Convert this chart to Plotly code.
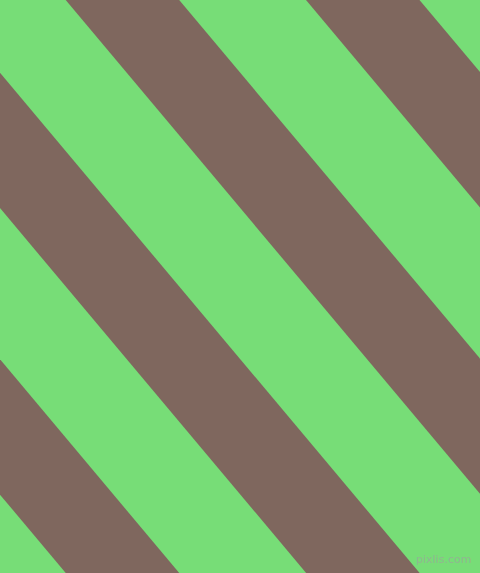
import plotly.graph_objects as go

# canvas size in px
W, H = 480, 573

# stripe geometry (x where each brown stripe's left edge meets the top)
stripe_starts = [-415.0, -174.6, 65.7, 306.0]
stripe_width = 113.5        # horizontal width of a brown stripe
slope = 0.839               # x shift per pixel going down

green = "#77DD77"
brown = "#7F675E"

fig = go.Figure()

for c in stripe_starts:
    xs = [c, c + stripe_width, c + stripe_width + slope * H, c + slope * H, c]
    ys = [0, 0, H, H, 0]
    fig.add_trace(go.Scatter(
        x=xs, y=ys, mode="lines", fill="toself",
        fillcolor=brown, line=dict(width=0, color=brown),
        hoverinfo="skip", showlegend=False,
    ))

fig.add_annotation(
    x=W - 7, y=H - 14, xanchor="right", yanchor="middle",
    text="pixlis.com", showarrow=False,
    font=dict(family="DejaVu Sans", size=11, color="rgba(150,175,150,0.85)"),
)

fig.update_xaxes(range=[0, W], visible=False, fixedrange=True)
fig.update_yaxes(range=[H, 0], visible=False, fixedrange=True)
fig.update_layout(
    width=W, height=H,
    margin=dict(l=0, r=0, t=0, b=0),
    plot_bgcolor=green, paper_bgcolor=green,
)

# drop the browser's default page margin so the chart fills the window
fig.write_html(
    "out.html",
    config={"displayModeBar": False},
    post_script="document.body.style.margin='0';document.body.style.overflow='hidden';",
)
